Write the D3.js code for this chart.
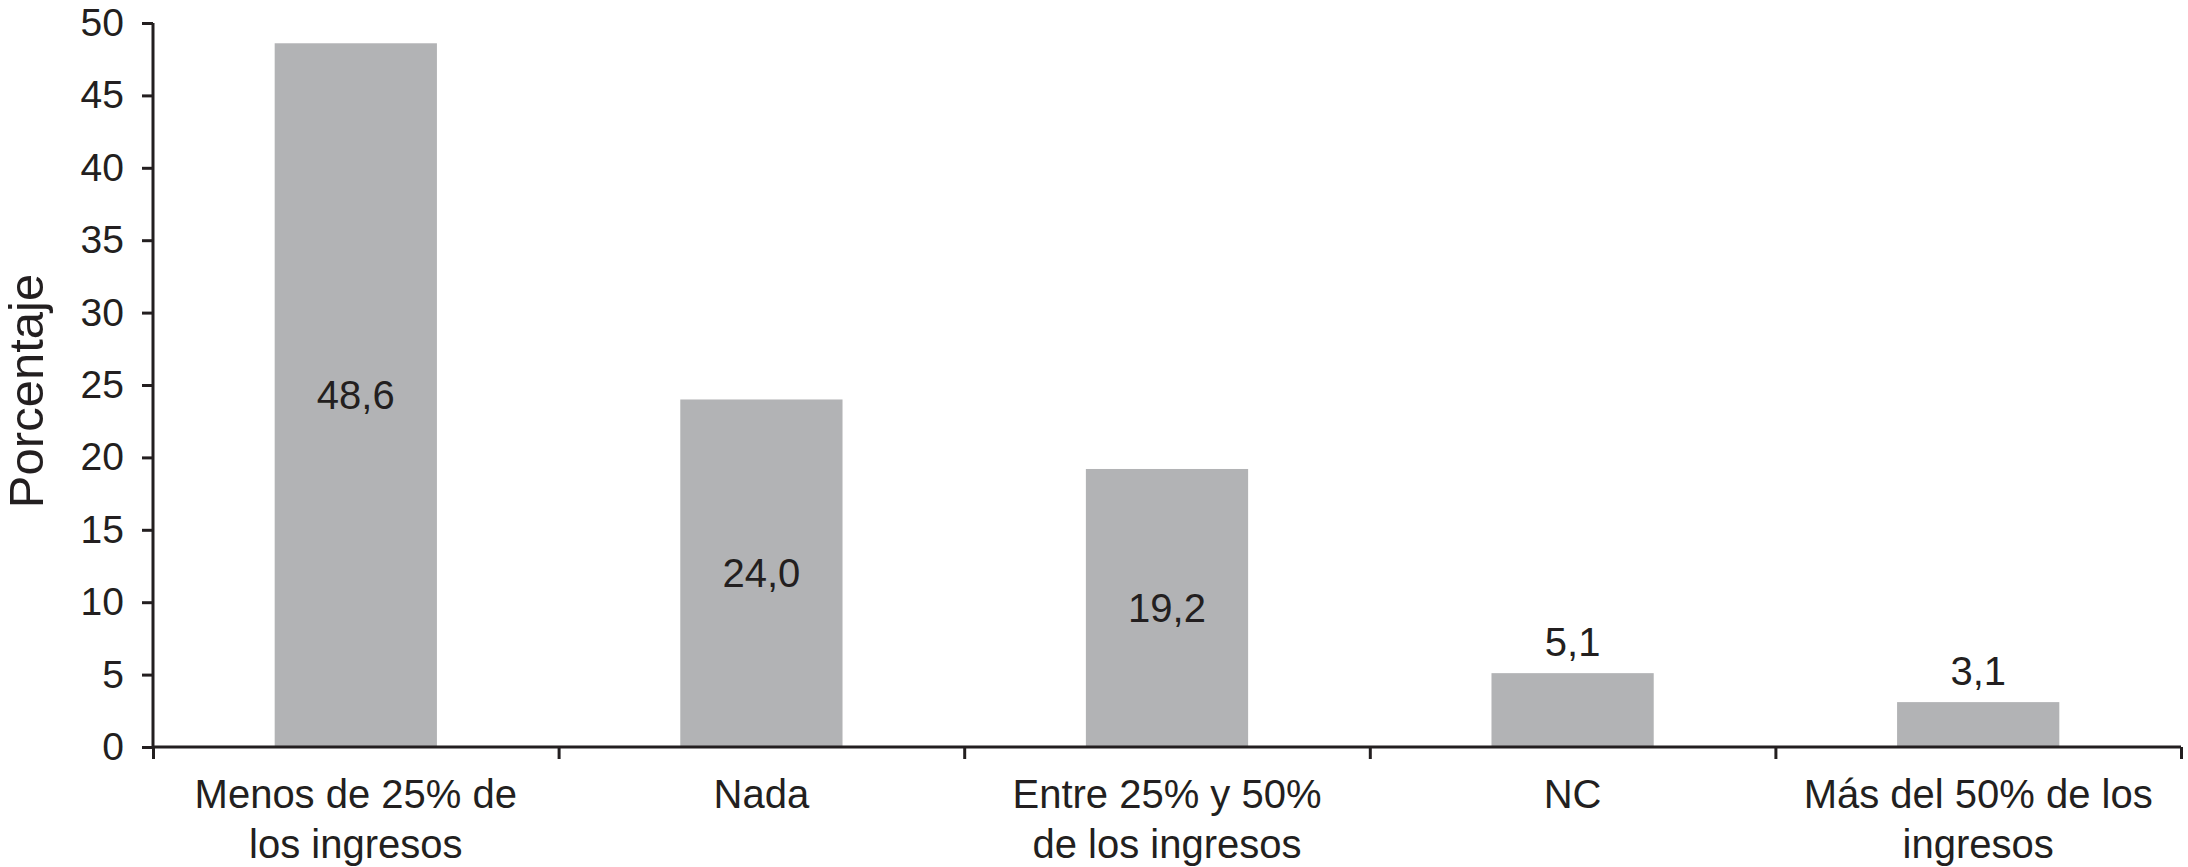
<!DOCTYPE html>
<html>
<head>
<meta charset="utf-8">
<script src="https://cdn.jsdelivr.net/npm/d3@7"></script>
<style>
  html, body { margin: 0; padding: 0; background: #fff; }
  svg { display: block; }
  text { font-family: "Liberation Sans", Arial, sans-serif; fill: #231f20; }
</style>
</head>
<body>
<svg id="chart" width="2188" height="867"></svg>
<script>
const categories = [
  ["Menos de 25% de", "los ingresos"],
  ["Nada"],
  ["Entre 25% y 50%", "de los ingresos"],
  ["NC"],
  ["Más del 50% de los", "ingresos"]
];
const values = [48.6, 24.0, 19.2, 5.1, 3.1];
const valueLabels = ["48,6", "24,0", "19,2", "5,1", "3,1"];
const yTicks = [0, 5, 10, 15, 20, 25, 30, 35, 40, 45, 50];
const yTitle = "Porcentaje";

(function () {
const svg = d3.select("#chart");
const mLeft = 153, mRight = 2181, mTop = 23, mBottom = 747;
const ink = "#231f20";

const x = d3.scaleBand().domain(d3.range(values.length)).range([mLeft, mRight]).paddingInner(0.6).paddingOuter(0.3);
const xb = d3.scaleLinear().domain([0, values.length]).range([mLeft, mRight]);
const y = d3.scaleLinear().domain([0, 50]).range([mBottom, mTop]);

// bars
svg.append("g").selectAll("rect").data(values).join("rect")
  .attr("x", (d, i) => x(i))
  .attr("width", x.bandwidth())
  .attr("y", d => y(d))
  .attr("height", d => y(0) - y(d))
  .attr("fill", "#b2b3b5");

// y axis
const yAxis = svg.append("g").attr("transform", `translate(${mLeft},0)`)
  .call(d3.axisLeft(y).tickValues(yTicks).tickSize(11).tickPadding(18).tickFormat(d3.format("d")));
yAxis.select(".domain").attr("stroke", ink).attr("stroke-width", 3).attr("d", `M0,${mTop}V${mBottom}`);
yAxis.selectAll(".tick line").attr("stroke", ink).attr("stroke-width", 3);
yAxis.selectAll(".tick text").attr("font-size", 39).attr("fill", ink)
  .attr("font-family", "'Liberation Sans', Arial, sans-serif");

// x axis baseline + band ticks
const xAxis = svg.append("g").attr("transform", `translate(0,${mBottom})`)
  .call(d3.axisBottom(xb).tickValues(d3.range(values.length + 1)).tickSize(12).tickFormat(""));
xAxis.select(".domain").attr("stroke", ink).attr("stroke-width", 3).attr("d", `M${mLeft},0H${mRight}`);
xAxis.selectAll(".tick line").attr("stroke", ink).attr("stroke-width", 3);

// category labels
const catG = svg.append("g");
categories.forEach((lines, i) => {
  const cx = x(i) + x.bandwidth() / 2;
  const t = catG.append("text")
    .attr("text-anchor", "middle")
    .attr("font-size", 40)
    .attr("x", cx)
    .attr("y", 808);
  lines.forEach((ln, j) => {
    t.append("tspan").attr("x", cx).attr("dy", j === 0 ? 0 : 50).text(ln);
  });
});

// value labels
svg.append("g").selectAll("text").data(values).join("text")
  .attr("text-anchor", "middle")
  .attr("font-size", 40)
  .attr("x", (d, i) => x(i) + x.bandwidth() / 2)
  .attr("y", d => d > 10 ? (y(d) + y(0)) / 2 + 14 : y(d) - 17)
  .text((d, i) => valueLabels[i]);

// y title
svg.append("text")
  .attr("transform", `translate(43,391) rotate(-90)`)
  .attr("text-anchor", "middle")
  .attr("font-size", 49)
  .text(yTitle);
})();
</script>
</body>
</html>
